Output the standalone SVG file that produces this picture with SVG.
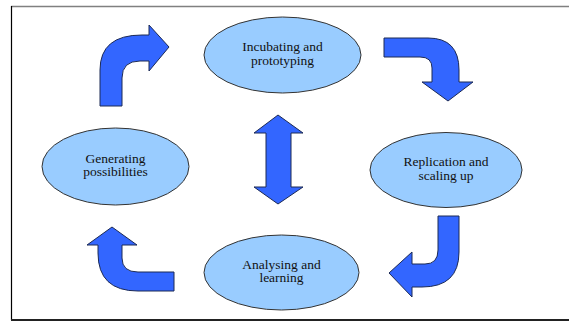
<svg xmlns="http://www.w3.org/2000/svg" width="569" height="322" viewBox="0 0 569 322">
<style>
.node ellipse{fill:#99CCFF;stroke:#333333;stroke-width:1}
.node text{font-family:'Liberation Serif','Times New Roman',serif;font-size:13.5px;fill:#111111;text-anchor:middle}
.arr{fill:#3366FF;stroke:#1c2a55;stroke-width:1;stroke-linejoin:miter}
</style>
<rect x="0" y="0" width="569" height="322" fill="#ffffff"/>
<g id="frame">
<line x1="11" y1="6.5" x2="569" y2="6.5" stroke="#808080" stroke-width="1.6"/>
<line x1="11.5" y1="6" x2="11.5" y2="320" stroke="#000000" stroke-width="1.2"/>
<line x1="11" y1="320" x2="569" y2="320" stroke="#222222" stroke-width="2"/>
</g>
<g id="connectors">
<path class="arr" d="M100,106 L100,70 Q100,35 142,35 L149,35 L149,25 L169,47 L149,71 L149,61 L140,61 Q122,61 122,78 L122,106 Z"/>
<path class="arr" d="M384,38 L428,38 Q459,38 459,70 L459,82 L473,82 L448,101 L422,82 L432,82 L432,68 Q432,57 420,57 L384,57 Z"/>
<path class="arr" d="M438,216 L459,216 L459,252 Q459,287 422,287 L412,287 L412,297 L389,273 L412,252 L412,264 L425,264 Q438,264 438,250 Z"/>
<path class="arr" d="M112,227 L137,245 L122,245 L122,258 Q122,272 138,272 L174,272 L174,291 L138,291 Q98,291 98,253 L98,245 L87,245 Z"/>
<path class="arr" d="M278,115 L303,133 L291,133 L291,187 L303,187 L278,204 L254,187 L266,187 L266,133 L254,133 Z"/>
</g>
<g id="incubating" class="node">
<ellipse cx="282.5" cy="55" rx="78.5" ry="38"/>
<text x="282.5" y="51" font-family="Liberation Serif, serif">Incubating and</text>
<text x="282.5" y="64.5" font-family="Liberation Serif, serif">prototyping</text>
</g>
<g id="replication" class="node">
<ellipse cx="446" cy="170" rx="76" ry="37.5"/>
<text x="446" y="166" font-family="Liberation Serif, serif">Replication and</text>
<text x="446" y="179.5" font-family="Liberation Serif, serif">scaling up</text>
</g>
<g id="analysing" class="node">
<ellipse cx="281.5" cy="272.5" rx="77.5" ry="37.5"/>
<text x="281.5" y="268.5" font-family="Liberation Serif, serif">Analysing and</text>
<text x="281.5" y="282" font-family="Liberation Serif, serif">learning</text>
</g>
<g id="generating" class="node">
<ellipse cx="115.5" cy="166.5" rx="73.5" ry="38.5"/>
<text x="115.5" y="162.5" font-family="Liberation Serif, serif">Generating</text>
<text x="115.5" y="176" font-family="Liberation Serif, serif">possibilities</text>
</g>
</svg>
